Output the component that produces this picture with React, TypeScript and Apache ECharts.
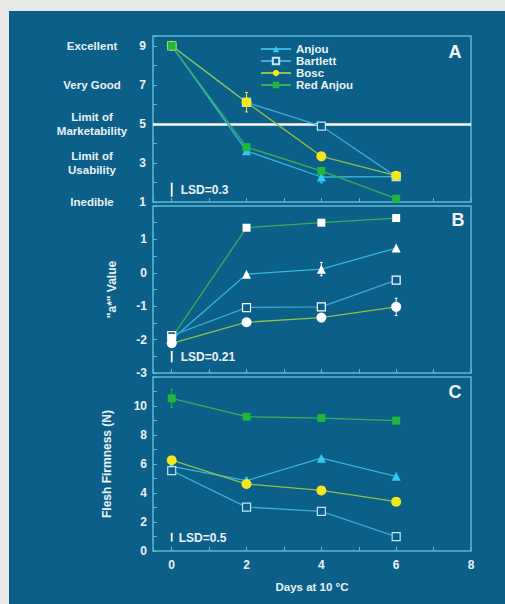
import React, { useEffect, useRef } from 'react';
import * as echarts from 'echarts';

// ---------- data ----------
const cultivars = ['Anjou', 'Bartlett', 'Bosc', 'Red Anjou'];
const days = [0, 2, 4, 6];

// Panel A: sensory quality (9 = excellent ... 1 = inedible)
const anjouA = [9, 3.62, 2.28, 2.3];
const bartlettA = [9, 6.1, 4.89, 2.3];
const boscA = [9, 6.11, 3.34, 2.35];
const redAnjouA = [9, 3.81, 2.59, 1.17];

// Panel B: "a*" value
const anjouB = [-2.0, -0.04, 0.11, 0.74];
const bartlettB = [-1.88, -1.04, -1.02, -0.22];
const boscB = [-2.11, -1.48, -1.34, -1.02];
const redAnjouB = [-1.95, 1.35, 1.5, 1.64];

// Panel C: flesh firmness (N)
const anjouC = [5.84, 4.85, 6.4, 5.15];
const bartlettC = [5.54, 3.03, 2.73, 0.99];
const boscC = [6.26, 4.62, 4.18, 3.4];
const redAnjouC = [10.53, 9.26, 9.17, 8.99];

// error bars: [cultivarIndex, dayIndex, halfWidth]
const errorsA = [[2, 1, 0.5], [0, 2, 0.3]];
const errorsB = [[0, 2, 0.2], [2, 3, 0.26], [1, 0, 0.1], [1, 1, 0.08], [1, 2, 0.1], [1, 3, 0.08]];
const errorsC = [[3, 0, 0.62], [1, 1, 0.25], [1, 2, 0.25], [1, 3, 0.25], [0, 1, 0.2]];

// LSD bars: [day, from, to]
const lsdA = [0, 1.27, 1.99];
const lsdB = [0, -2.68, -2.34];
const lsdC = [0, 0.65, 1.25];
const lsdLabels = ['LSD=0.3', 'LSD=0.21', 'LSD=0.5'];

const marketabilityLimit = 5;
const qualityValues = [9, 7, 5, 3, 1];
const qualityNames = ['Excellent', 'Very Good', 'Limit of\nMarketability', 'Limit of\nUsability', 'Inedible'];
const panelLetters = ['A', 'B', 'C'];

// ---------- styles ----------
const TEXT = '#e9f2f6';
const FONT = "'Liberation Sans', Arial, sans-serif";
const BG = '#0b5f88';
const FRAME = '#5db8d4';
const lineColors = ['#35b5de', '#3fa9d3', '#8cc04a', '#3aae58'];
const markerColors = ['#33c8f2', '#bfe6f4', '#f4e61e', '#1fb83c'];
const symbols = ['triangle', 'rect', 'circle', 'rect'];
const symbolSizes = [9, 8, 10, 8];

const panelA = [anjouA, bartlettA, boscA, redAnjouA];
const panelB = [anjouB, bartlettB, boscB, redAnjouB];
const panelC = [anjouC, bartlettC, boscC, redAnjouC];

const grids = [
  { left: 153, top: 36, width: 318, height: 166 },
  { left: 153, top: 206, width: 318, height: 167 },
  { left: 153, top: 377, width: 318, height: 174 },
];

function buildOption() {
  const series: any[] = [];
  const panels = [panelA, panelB, panelC];
  const errs = [errorsA, errorsB, errorsC];
  const lsds = [lsdA, lsdB, lsdC];

  panels.forEach((panel, p) => {
    const white = p === 1;
    series.push({
      type: 'custom',
      xAxisIndex: p,
      yAxisIndex: p,
      z: 1,
      silent: true,
      data: errs[p].map((e) => [days[e[1]], panel[e[0]][e[1]], e[2], e[0]]),
      renderItem: (params: any, api: any) => {
        const x = api.value(0), y = api.value(1), e = api.value(2), c = api.value(3);
        const a = api.coord([x, y - e]);
        const b = api.coord([x, y + e]);
        const col = white ? '#ffffff' : markerColors[c];
        return {
          type: 'group',
          children: [
            { type: 'line', shape: { x1: a[0], y1: a[1], x2: b[0], y2: b[1] }, style: { stroke: col, lineWidth: 1 } },
            { type: 'line', shape: { x1: a[0] - 1.5, y1: a[1], x2: a[0] + 1.5, y2: a[1] }, style: { stroke: col, lineWidth: 1 } },
            { type: 'line', shape: { x1: b[0] - 1.5, y1: b[1], x2: b[0] + 1.5, y2: b[1] }, style: { stroke: col, lineWidth: 1 } },
          ],
        };
      },
    });
    series.push({
      type: 'custom',
      xAxisIndex: p,
      yAxisIndex: p,
      z: 5,
      silent: true,
      data: [lsds[p]],
      renderItem: (params: any, api: any) => {
        const x = api.value(0), y0 = api.value(1), y1 = api.value(2);
        const a = api.coord([x, y0]);
        const b = api.coord([x, y1]);
        return {
          type: 'group',
          children: [
            { type: 'line', shape: { x1: a[0], y1: a[1], x2: b[0], y2: b[1] }, style: { stroke: '#ffffff', lineWidth: 1.8 } },
            {
              type: 'text',
              x: a[0] + (p === 2 ? 7 : 9),
              y: (a[1] + b[1]) / 2 + (p === 2 ? 0.5 : 0),
              style: { text: lsdLabels[p], fill: TEXT, fontSize: 12, fontWeight: 'bold', fontFamily: FONT, verticalAlign: 'middle', align: 'left' },
            },
          ],
        };
      },
    });
    panel.forEach((vals, c) => {
      const isOpen = c === 1;
      const mc = white ? '#ffffff' : markerColors[c];
      const s: any = {
        type: 'line',
        name: cultivars[c],
        xAxisIndex: p,
        yAxisIndex: p,
        z: 3,
        data: days.map((d, i) => [d, vals[i]]),
        symbol: symbols[c],
        symbolSize: symbolSizes[c],
        showAllSymbol: true,
        lineStyle: { color: lineColors[c], width: 1.3 },
        itemStyle: {
          color: isOpen ? BG : mc,
          borderColor: isOpen ? (white ? '#ffffff' : markerColors[c]) : mc,
          borderWidth: isOpen ? 1.2 : 0,
        },
        emphasis: { disabled: true },
      };
      if (p === 0 && c === 0) {
        s.markLine = {
          silent: true,
          symbol: 'none',
          label: { show: false },
          lineStyle: { color: '#ffffff', width: 2.5, type: 'solid' },
          data: [{ yAxis: marketabilityLimit }],
          z: 2,
        };
      }
      series.push(s);
    });
  });

  const labelStyle = { color: TEXT, fontSize: 12, fontWeight: 'bold', fontFamily: FONT };
  const tickStyle = { show: true, inside: true, length: 4, lineStyle: { color: FRAME, width: 1 } };
  const hiddenLine = { show: false, onZero: false };

  const xAxis = grids.map((g, i) => ({
    type: 'value',
    gridIndex: i,
    position: 'bottom',
    min: -0.5,
    max: 8,
    minInterval: 1,
    maxInterval: 1,
    axisLine: hiddenLine,
    axisTick: tickStyle,
    splitLine: { show: false },
    axisLabel: i === 2
      ? { ...labelStyle, margin: 8, formatter: (v: number) => (Number.isInteger(v) && v % 2 === 0 ? String(Math.abs(v)) : '') }
      : { show: false },
    name: i === 2 ? 'Days at 10 °C' : '',
    nameLocation: 'middle',
    nameGap: 30,
    nameTextStyle: { ...labelStyle, fontSize: 11.5 },
  }));

  const yAxis: any[] = [
    {
      type: 'value', gridIndex: 0, position: 'left', min: 1, max: 9.5, interval: 1,
      axisLine: hiddenLine, axisTick: tickStyle, splitLine: { show: false },
      axisLabel: { ...labelStyle, margin: 7, formatter: (v: number) => (Number.isInteger(v) && v % 2 === 1 ? String(v) : '') },
    },
    {
      type: 'value', gridIndex: 1, position: 'left', min: -3, max: 2, interval: 0.5,
      axisLine: hiddenLine, axisTick: tickStyle, splitLine: { show: false },
      axisLabel: { ...labelStyle, margin: 6, formatter: (v: number) => (Number.isInteger(v) && v < 2 ? String(v) : '') },
      name: '"a*" Value', nameLocation: 'middle', nameGap: 35, nameRotate: 90,
      nameTextStyle: { ...labelStyle },
    },
    {
      type: 'value', gridIndex: 2, position: 'left', min: 0, max: 12, interval: 1,
      axisLine: hiddenLine, axisTick: tickStyle, splitLine: { show: false },
      axisLabel: { ...labelStyle, margin: 6, formatter: (v: number) => (Number.isInteger(v) && v % 2 === 0 && v <= 10 ? String(v) : '') },
      name: 'Flesh Firmness (N)', nameLocation: 'middle', nameGap: 40, nameRotate: 90,
      nameTextStyle: { ...labelStyle },
    },
    {
      type: 'value', gridIndex: 0, position: 'left', offset: 0, min: 1, max: 9.5, interval: 1,
      axisLine: hiddenLine, axisTick: { show: false }, splitLine: { show: false },
      axisLabel: {
        ...labelStyle, fontSize: 11.5, margin: 61, align: 'center', lineHeight: 13.5, padding: [8, 0, 0, 0],
        formatter: (v: number) => {
          const k = qualityValues.indexOf(v);
          return k >= 0 ? qualityNames[k] : '';
        },
      },
    },
  ];

  const letterPos = [[455, 52], [458, 220], [455, 392]];

  return {
    animation: false,
    backgroundColor: '#e8e8e8',
    grid: grids.map((g) => ({
      ...g, show: true, borderColor: FRAME, borderWidth: 1.5, backgroundColor: 'transparent',
      containLabel: false, outerBoundsMode: 'none',
    })),
    xAxis,
    yAxis,
    legend: {
      data: cultivars,
      orient: 'vertical',
      left: 255,
      top: 38,
      itemWidth: 30,
      itemHeight: 8,
      itemGap: 0,
      selectedMode: false,
      textStyle: { color: TEXT, fontSize: 11.5, fontWeight: 'bold', fontFamily: FONT, lineHeight: 11.7 },
    },
    graphic: [
      { type: 'rect', shape: { x: 9, y: 11, width: 496, height: 593 }, style: { fill: BG }, z: -10, silent: true },
      ...panelLetters.map((t, i) => ({
        type: 'text', x: letterPos[i][0], y: letterPos[i][1], z: 10, silent: true,
        style: { text: t, fill: '#f2f6f8', fontSize: 18, fontWeight: 'bold', fontFamily: FONT, align: 'center', verticalAlign: 'middle' },
      })),
    ],
    series,
  };
}

export default function App() {
  const ref = useRef<HTMLDivElement>(null);
  useEffect(() => {
    if (!ref.current) return;
    const chart = echarts.init(ref.current, undefined, { renderer: 'svg' });
    chart.setOption(buildOption() as any);
    return () => chart.dispose();
  }, []);
  return <div ref={ref} style={{ position: 'absolute', left: 0, top: 0, width: 505, height: 604 }} />;
}
